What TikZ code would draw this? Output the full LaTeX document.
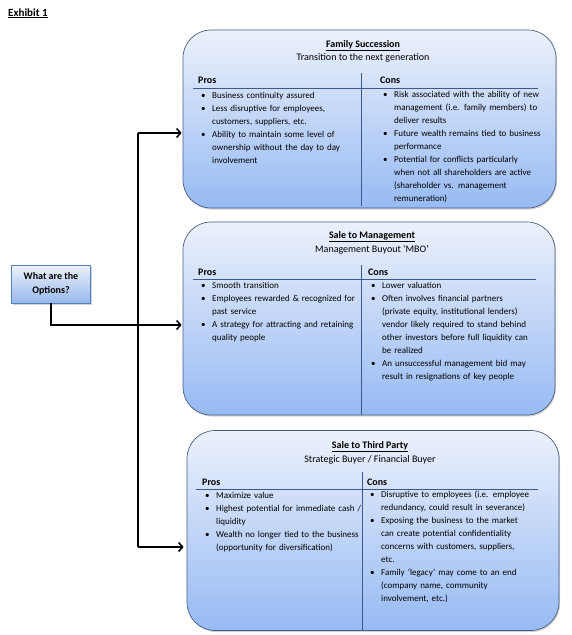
\documentclass[tikz,border=0pt]{standalone}
\usepackage{fontspec}
\setmainfont{Carlito}
\usetikzlibrary{arrows.meta, positioning, shadows}

\definecolor{boxtop}{RGB}{236,241,251}
\definecolor{boxbot}{RGB}{150,186,243}
\definecolor{boxline}{RGB}{72,94,132}
\definecolor{optline}{RGB}{79,129,189}
\definecolor{optbot}{RGB}{152,184,236}
\definecolor{ruleline}{RGB}{60,88,140}

\newcommand{\bitem}[1]{\raggedright\noindent\hangindent=14pt\hangafter=1\hbox to 14pt{\hskip 3pt\textbullet\hfil}#1\par}
\tikzstyle{arrow} = [line width=1.6pt,-{Straight Barb[length=4pt,width=9pt]}]

\begin{document}
\begin{tikzpicture}[
    x=1pt, y=-1pt,
    txt/.style={font=\fontsize{9}{13}\selectfont, inner sep=0pt},
    optionbox/.style={rectangle, rounded corners=28pt, draw=boxline, line width=0.7pt,
        top color=boxtop, bottom color=boxbot,
        drop shadow={shadow xshift=1pt, shadow yshift=-1.5pt, opacity=0.35}},
    askbox/.style={rectangle, draw=optline, line width=0.8pt, top color=boxtop, bottom color=optbot,
        align=center, font=\bfseries\fontsize{10}{14}\selectfont,
        drop shadow={shadow xshift=1pt, shadow yshift=-1.5pt, opacity=0.35}},
    boxtitle/.style={txt, anchor=base, font=\bfseries\fontsize{10}{13}\selectfont},
    boxsub/.style={txt, anchor=base, font=\fontsize{10}{13}\selectfont},
    colhead/.style={txt, anchor=base west, font=\bfseries\fontsize{10}{13}\selectfont},
    collist/.style={txt, anchor=base west, text width=170pt},
    rule/.style={draw=ruleline, line width=0.5pt}
]
\useasboundingbox (0,0) rectangle (572,635);

% Boxes
\node[txt, anchor=base west, font=\bfseries\fontsize{11}{13}\selectfont] (exhibit) at (8,16) {\underline{Exhibit 1}};
\node[askbox, minimum width=79pt, minimum height=38pt] (opts) at (51,284) {What are the\\Options?};
\node[optionbox, minimum width=373pt, minimum height=178pt] (fam) at (369.5,119) {};
\node[optionbox, minimum width=372pt, minimum height=193pt] (mbo) at (369,318.5) {};
\node[optionbox, minimum width=372pt, minimum height=200pt] (third) at (373,530.5) {};

% Family Succession
\node[boxtitle] (famtitle) at (363,47.5) {\underline{Family Succession}};
\node[boxsub] (famsub) at (363,60.5) {Transition to the next generation};
\node[colhead] (fampros) at (198,83.5) {Pros};
\node[colhead] (famcons) at (380,83.5) {Cons};
\draw[rule] (193,88) -- (538,88);
\draw[rule] (361,73) -- (361,206);
\node[collist] (famproslist) at (198,98) {%
  \bitem{Business continuity assured}
  \bitem{Less disruptive for employees,\newline customers, suppliers, etc.}
  \bitem{Ability to maintain some level of\newline ownership without the day to day\newline involvement}};
\node[collist] (famconslist) at (380,97) {%
  \bitem{Risk associated with the ability of new\newline management (i.e. family members) to\newline deliver results}
  \bitem{Future wealth remains tied to business\newline performance}
  \bitem{Potential for conflicts particularly\newline when not all shareholders are active\newline (shareholder vs. management\newline remuneration)}};

% Sale to Management
\node[boxtitle] (mbotitle) at (372,238.5) {\underline{Sale to Management}};
\node[boxsub] (mbosub) at (372,252.5) {Management Buyout ‘MBO’};
\node[colhead] (mbopros) at (198,275) {Pros};
\node[colhead] (mbocons) at (368,275) {Cons};
\draw[rule] (193,279) -- (536,279);
\draw[rule] (361,265) -- (361,415);
\node[collist] (mboproslist) at (198,288) {%
  \bitem{Smooth transition}
  \bitem{Employees rewarded \& recognized for\newline past service}
  \bitem{A strategy for attracting and retaining\newline quality people}};
\node[collist] (mboconslist) at (368,288) {%
  \bitem{Lower valuation}
  \bitem{Often involves financial partners\newline (private equity, institutional lenders)\newline vendor likely required to stand behind\newline other investors before full liquidity can\newline be realized}
  \bitem{An unsuccessful management bid may\newline result in resignations of key people}};

% Sale to Third Party
\node[boxtitle] (thirdtitle) at (370,448) {\underline{Sale to Third Party}};
\node[boxsub] (thirdsub) at (370,462) {Strategic Buyer / Financial Buyer};
\node[colhead] (thirdpros) at (202,485) {Pros};
\node[colhead] (thirdcons) at (367,485) {Cons};
\draw[rule] (196,489) -- (538,489);
\draw[rule] (362,472) -- (362,630);
\node[collist] (thirdproslist) at (202,498.5) {%
  \bitem{Maximize value}
  \bitem{Highest potential for immediate cash /\newline liquidity}
  \bitem{Wealth no longer tied to the business\newline (opportunity for diversification)}};
\node[collist] (thirdconslist) at (367,497.5) {%
  \bitem{Disruptive to employees (i.e. employee\newline redundancy, could result in severance)}
  \bitem{Exposing the business to the market\newline can create potential confidentiality\newline concerns with customers, suppliers,\newline etc.}
  \bitem{Family ‘legacy’ may come to an end\newline (company name, community\newline involvement, etc.)}};

% Paths
\coordinate (trunktop) at (138,133);
\coordinate (trunkbot) at (138,547);
\coordinate (midrow) at (0,325);
\draw[line width=1.6pt] (trunktop) -- (trunkbot);
\draw[arrow, shorten >=1pt] (trunktop) -- (trunktop -| fam.west);
\draw[arrow, shorten >=1pt] (opts.south) |- (mbo.west |- midrow);
\draw[arrow, shorten >=3pt] (trunkbot) -- (trunkbot -| third.west);

\end{tikzpicture}
\end{document}
